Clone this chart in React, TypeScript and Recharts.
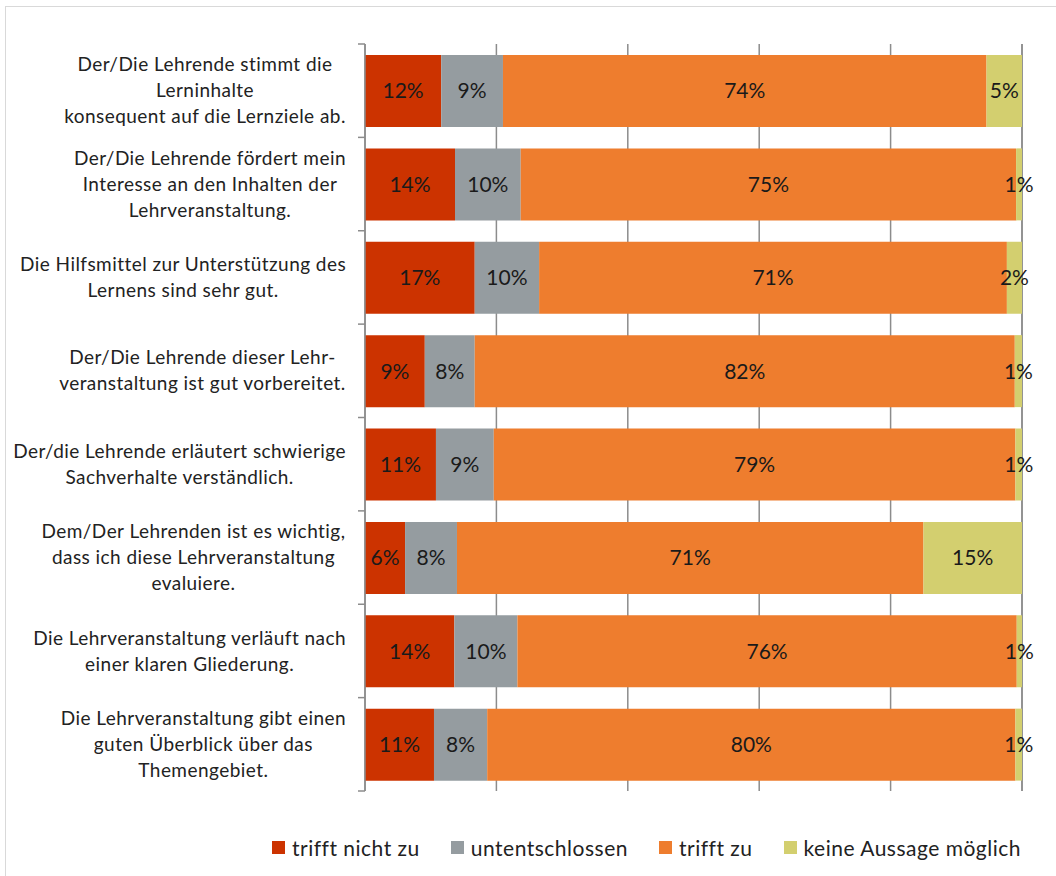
import React from "react";
import {
  BarChart,
  Bar,
  XAxis,
  YAxis,
  CartesianGrid,
  LabelList,
} from "recharts";

const categories = [
  "Der/Die Lehrende stimmt die\nLerninhalte\nkonsequent auf die Lernziele ab.",
  "Der/Die Lehrende fördert mein\nInteresse an den Inhalten der\nLehrveranstaltung.",
  "Die Hilfsmittel zur Unterstützung des\nLernens sind sehr gut.",
  "Der/Die Lehrende dieser Lehr-\nveranstaltung ist gut vorbereitet.",
  "Der/die Lehrende erläutert schwierige\nSachverhalte verständlich.",
  "Dem/Der Lehrenden ist es wichtig,\ndass ich diese Lehrveranstaltung\nevaluiere.",
  "Die Lehrveranstaltung verläuft nach\neiner klaren Gliederung.",
  "Die Lehrveranstaltung gibt einen\nguten Überblick über das\nThemengebiet.",
];

const trifftNichtZu = [11.6, 13.7, 16.7, 9.1, 10.8, 6.1, 13.6, 10.5];
const untentschlossen = [9.4, 10.0, 9.8, 7.6, 8.8, 7.9, 9.6, 8.1];
const trifftZu = [73.6, 75.4, 71.2, 82.2, 79.4, 71.0, 76.0, 80.4];
const keineAussage = [5.4, 0.9, 2.3, 1.1, 1.0, 15.0, 0.8, 1.0];

const xTicks = [0, 20, 40, 60, 80, 100];

const series = [
  { key: "nicht", name: "trifft nicht zu", color: "#cc3300", values: trifftNichtZu },
  { key: "unent", name: "untentschlossen", color: "#959ca0", values: untentschlossen },
  { key: "zu", name: "trifft zu", color: "#ee7d2e", values: trifftZu },
  { key: "keine", name: "keine Aussage möglich", color: "#d3cf6f", values: keineAussage },
];

const data = categories.map((name, i) => {
  const row: any = { name };
  series.forEach((s) => (row[s.key] = s.values[i]));
  return row;
});

const W = 1056;
const H = 876;
const margin = { top: 44, right: 34, bottom: 85, left: 0 };
const rowH = (H - margin.top - margin.bottom) / categories.length;
const FONT = "Lato, 'Open Sans', sans-serif";
const LABEL_SIZE = 19;
const LABEL_SPACING = 0.45;
const LINE_H = 26;

let ctx: CanvasRenderingContext2D | null = null;
const textWidth = (s: string) => {
  if (!ctx) ctx = document.createElement("canvas").getContext("2d");
  if (!ctx) return s.length * 9.5;
  ctx.font = `${LABEL_SIZE}px Lato`;
  return ctx.measureText(s).width + s.length * LABEL_SPACING;
};

const CategoryTick = (props: any) => {
  const { x, y, payload, index } = props;
  const lines = String(payload.value).split("\n");
  const blockW = Math.max(...lines.map(textWidth));
  const cx = x - blockW / 2;
  const startY = y - ((lines.length - 1) * LINE_H) / 2;
  return (
    <g>
      <line x1={x + 12} x2={x + 19} y1={y - rowH / 2} y2={y - rowH / 2} stroke="#8c8c8c" strokeWidth={1.5} />
      {index === categories.length - 1 && (
        <line x1={x + 12} x2={x + 19} y1={y + rowH / 2} y2={y + rowH / 2} stroke="#8c8c8c" strokeWidth={1.5} />
      )}
      <text
        textAnchor="middle"
        fill="#222"
        fontSize={LABEL_SIZE}
        fontFamily={FONT}
        letterSpacing={LABEL_SPACING}
      >
        {lines.map((l, i) => (
          <tspan key={i} x={cx} y={startY + i * LINE_H} dy="0.35em">
            {l}
          </tspan>
        ))}
      </text>
    </g>
  );
};

const App = () => {
  return (
    <div style={{ position: "absolute", left: 0, top: 0, width: W, height: H, overflow: "hidden", background: "#fff" }}>
      <div
        style={{
          position: "absolute",
          left: 5,
          top: 6,
          width: W + 20,
          height: H + 20,
          border: "1px solid #d9d9d9",
        }}
      />
      <div style={{ position: "absolute", left: 0, top: 0 }}>
        <BarChart width={W} height={H} data={data} layout="vertical" margin={margin} barSize={72}>
          <CartesianGrid horizontal={false} stroke="#8c8c8c" strokeWidth={1.5} />
          <XAxis type="number" domain={[0, 100]} ticks={xTicks} hide />
          <YAxis
            type="category"
            dataKey="name"
            width={365}
            axisLine={{ stroke: "#8c8c8c", strokeWidth: 1.5 }}
            tickLine={false}
            tickSize={7}
            tickMargin={12}
            tick={<CategoryTick />}
            interval={0}
          />
          {series.map((s) => (
            <Bar key={s.key} dataKey={s.key} name={s.name} stackId="a" fill={s.color} isAnimationActive={false}>
              <LabelList
                dataKey={s.key}
                position="center"
                fill="#1a1a1a"
                fontSize={21}
                fontFamily={FONT}
                formatter={(v: any) => `${Math.round(Number(v))}%`}
              />
            </Bar>
          ))}
        </BarChart>
      </div>
      <div
        style={{
          position: "absolute",
          left: 272,
          top: 835,
          display: "flex",
          alignItems: "center",
          gap: 31,
          fontFamily: FONT,
          fontSize: 21,
          letterSpacing: 0.5,
          color: "#222",
          whiteSpace: "nowrap",
        }}
      >
        {series.map((s) => (
          <div key={s.key} style={{ display: "flex", alignItems: "center", gap: 7 }}>
            <span style={{ width: 13, height: 13, background: s.color, display: "inline-block" }} />
            <span>{s.name}</span>
          </div>
        ))}
      </div>
    </div>
  );
};

export default App;
